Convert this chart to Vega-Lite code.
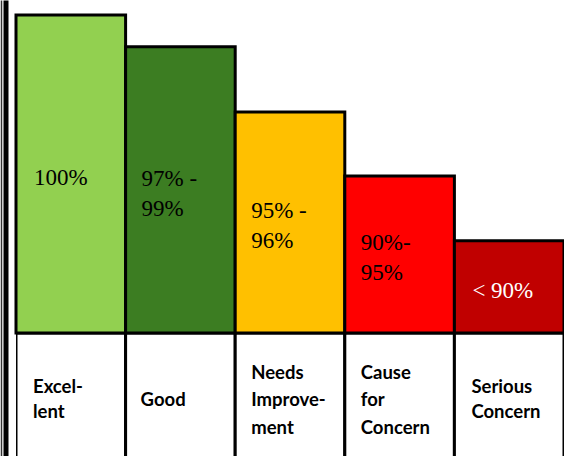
{
  "$schema": "https://vega.github.io/schema/vega-lite/v6.json",
  "width": 548,
  "height": 456,
  "autosize": {"type": "none"},
  "padding": {"left": 16, "top": 0, "right": 0, "bottom": 0},
  "config": {"view": {"stroke": null}},
  "data": {
    "values": [
      {"tier": "Excellent", "label": "Excel-\nlent", "range": "100%", "value": 100},
      {"tier": "Good", "label": "Good", "range": "97% -\n99%", "value": 90},
      {"tier": "Needs Improvement", "label": "Needs\nImprove-\nment", "range": "95% -\n96%", "value": 69.5},
      {"tier": "Cause for Concern", "label": "Cause\nfor\nConcern", "range": "90%-\n95%", "value": 49.4},
      {"tier": "Serious Concern", "label": "Serious\nConcern", "range": "< 90%", "value": 29}
    ]
  },
  "layer": [
    {
      "encoding": {
        "x": {"field": "tier", "type": "nominal", "sort": null, "scale": {"paddingInner": 0, "paddingOuter": 0}, "axis": null}
      },
      "layer": [
        {
          "mark": {"type": "rect", "fill": "white", "stroke": "black", "strokeWidth": 3, "clip": true},
          "encoding": {
            "y": {"datum": 0, "type": "quantitative", "scale": {"domain": [-38.68, 104.72], "nice": false, "zero": false},
              "axis": {"domain": true, "domainColor": "black", "domainWidth": 5, "ticks": false, "labels": false, "grid": false, "title": null, "offset": 10.5}},
            "y2": {"datum": -50}
          }
        },
        {
          "mark": {"type": "bar", "stroke": "black", "strokeWidth": 3},
          "encoding": {
            "y": {"field": "value", "type": "quantitative"},
            "y2": {"datum": 0},
            "color": {
              "field": "tier", "type": "nominal",
              "scale": {"domain": ["Excellent", "Good", "Needs Improvement", "Cause for Concern", "Serious Concern"],
                        "range": ["#92D050", "#3C7D22", "#FFC000", "#FF0000", "#C00000"]},
              "legend": null
            }
          }
        },
        {
          "transform": [{"filter": {"field": "tier", "oneOf": ["Good"]}}],
          "mark": {"type": "text", "align": "left", "baseline": "middle", "dx": 15, "dy": 0, "font": "Lato", "fontWeight": "bold", "fontSize": 18.5, "lineHeight": 27, "lineBreak": "\n", "color": "black"},
          "encoding": {
            "x": {"field": "tier", "type": "nominal", "sort": null, "bandPosition": 0},
            "y": {"datum": -21, "type": "quantitative"},
            "text": {"field": "label"}
          }
        },
        {
          "transform": [{"filter": {"field": "tier", "oneOf": ["Excellent", "Serious Concern"]}}],
          "mark": {"type": "text", "align": "left", "baseline": "middle", "dx": 17, "dy": -12.5, "font": "Lato", "fontWeight": "bold", "fontSize": 18.5, "lineHeight": 25, "lineBreak": "\n", "color": "black"},
          "encoding": {
            "x": {"field": "tier", "type": "nominal", "sort": null, "bandPosition": 0},
            "y": {"datum": -21, "type": "quantitative"},
            "text": {"field": "label"}
          }
        },
        {
          "transform": [{"filter": {"field": "tier", "oneOf": ["Needs Improvement", "Cause for Concern"]}}],
          "mark": {"type": "text", "align": "left", "baseline": "middle", "dx": 16, "dy": -27, "font": "Lato", "fontWeight": "bold", "fontSize": 18.5, "lineHeight": 27.5, "lineBreak": "\n", "color": "black"},
          "encoding": {
            "x": {"field": "tier", "type": "nominal", "sort": null, "bandPosition": 0},
            "y": {"datum": -21, "type": "quantitative"},
            "text": {"field": "label"}
          }
        }
      ]
    },
    {
      "encoding": {
        "x": {"field": "tier", "type": "nominal", "sort": null, "bandPosition": 0, "scale": {"paddingInner": 0, "paddingOuter": 0}, "axis": null},
        "y": {"field": "value", "type": "quantitative", "scale": {"domain": [-77.36, 209.44], "nice": false, "zero": false},
          "axis": {"orient": "left", "domain": true, "domainColor": "#333333", "domainWidth": 1.5, "ticks": false, "labels": false, "grid": false, "title": null, "offset": 15}},
        "text": {"field": "range"},
        "color": {"condition": {"test": "datum.tier === 'Serious Concern'", "value": "white"}, "value": "black"}
      },
      "layer": [
        {
          "transform": [{"filter": {"field": "tier", "oneOf": ["Excellent", "Serious Concern"]}}],
          "mark": {"type": "text", "align": "left", "baseline": "middle", "dx": 18, "dy": 4, "font": "Liberation Serif", "fontSize": 23, "lineHeight": 30, "lineBreak": "\n"}
        },
        {
          "transform": [{"filter": {"field": "tier", "oneOf": ["Good", "Needs Improvement", "Cause for Concern"]}}],
          "mark": {"type": "text", "align": "left", "baseline": "middle", "dx": 16, "dy": -11, "font": "Liberation Serif", "fontSize": 23, "lineHeight": 30, "lineBreak": "\n"}
        }
      ]
    }
  ],
  "resolve": {"scale": {"y": "independent"}}
}
